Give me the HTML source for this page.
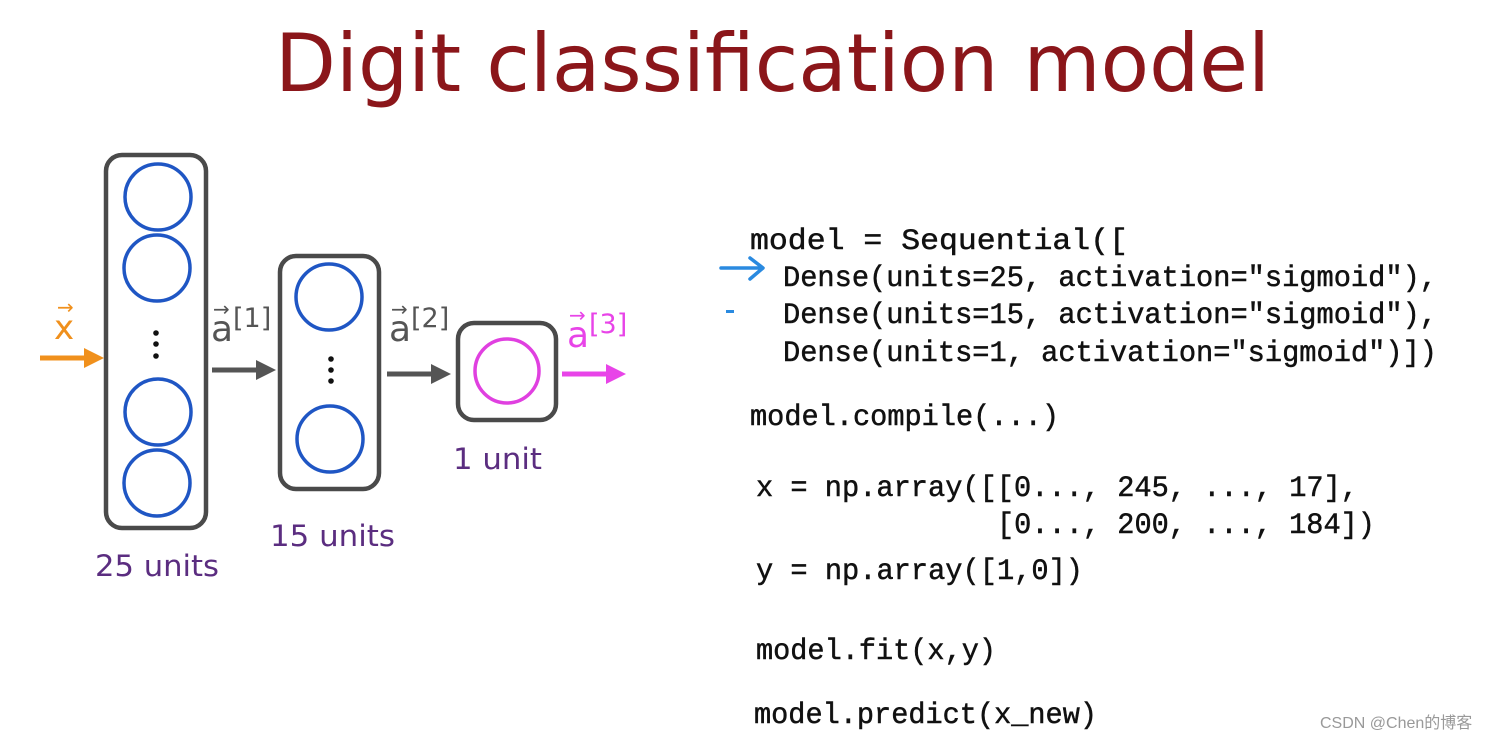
<!DOCTYPE html>
<html><head><meta charset="utf-8"><style>
html,body{margin:0;padding:0;background:#fff;width:1504px;height:742px;overflow:hidden}
svg{display:block}
.code{font-family:"Liberation Mono",monospace;font-size:30px;fill:#111;stroke:#111;stroke-width:0.5}
.lbl{font-family:"DejaVu Sans","Liberation Sans",sans-serif;font-size:29px;fill:#5b2d80}
</style></head><body>
<svg width="1504" height="742" viewBox="0 0 1504 742" xmlns="http://www.w3.org/2000/svg">
<text x="275" y="91" font-family="DejaVu Sans,Liberation Sans,sans-serif" font-size="80" fill="#8b161a" textLength="995" lengthAdjust="spacingAndGlyphs">Digit classification model</text>

<g fill="none" stroke="#4a4a4a" stroke-width="4.5">
<rect x="106" y="155" width="100" height="373" rx="16"/>
<rect x="280" y="256" width="99" height="233" rx="16"/>
<rect x="458" y="323" width="98" height="97" rx="16"/>
</g>
<g fill="none" stroke="#1f56c4" stroke-width="3.5">
<circle cx="158" cy="197" r="33"/>
<circle cx="157" cy="268" r="33"/>
<circle cx="158" cy="412" r="33"/>
<circle cx="157" cy="483" r="33"/>
<circle cx="329" cy="297" r="33"/>
<circle cx="330" cy="439" r="33"/>
</g>
<circle cx="507" cy="371" r="32" fill="none" stroke="#e040e0" stroke-width="3.5"/>
<g fill="#111">
<circle cx="156" cy="333" r="2.8"/><circle cx="156" cy="344" r="2.8"/><circle cx="156" cy="356" r="2.8"/>
<circle cx="331" cy="359" r="2.8"/><circle cx="331" cy="370" r="2.8"/><circle cx="331" cy="381" r="2.8"/>
</g>

<line x1="40" y1="358" x2="88" y2="358" stroke="#f0901c" stroke-width="5"/>
<polygon points="84,348 104,358 84,368" fill="#f0901c"/>
<line x1="212" y1="370" x2="260" y2="370" stroke="#555" stroke-width="5"/>
<polygon points="256,360 276,370 256,380" fill="#555"/>
<line x1="387" y1="374" x2="435" y2="374" stroke="#555" stroke-width="5"/>
<polygon points="431,364 451,374 431,384" fill="#555"/>
<line x1="562" y1="374" x2="610" y2="374" stroke="#e844e8" stroke-width="5"/>
<polygon points="606,364 626,374 606,384" fill="#e844e8"/>

<g font-family="DejaVu Sans,Liberation Sans,sans-serif">
<text x="54" y="339" font-size="34" fill="#f0901c">x</text>
<text x="57" y="314" font-size="20" fill="#f0901c">→</text>
<text x="211" y="341" font-size="36" fill="#555">a</text>
<text x="213" y="316" font-size="20" fill="#555">→</text>
<text x="233" y="327" font-size="27" fill="#555">[1]</text>
<text x="389" y="341" font-size="36" fill="#555">a</text>
<text x="391" y="316" font-size="20" fill="#555">→</text>
<text x="411" y="327" font-size="27" fill="#555">[2]</text>
<text x="567" y="347" font-size="36" fill="#e844e8">a</text>
<text x="569" y="322" font-size="20" fill="#e844e8">→</text>
<text x="589" y="333" font-size="27" fill="#e844e8">[3]</text>
</g>

<text class="lbl" x="95" y="576" textLength="124" lengthAdjust="spacingAndGlyphs">25 units</text>
<text class="lbl" x="270" y="546" textLength="125" lengthAdjust="spacingAndGlyphs">15 units</text>
<text class="lbl" x="453" y="469" textLength="89" lengthAdjust="spacingAndGlyphs">1 unit</text>

<text class="code" x="750" y="249" textLength="378" lengthAdjust="spacingAndGlyphs">model = Sequential([</text>
<text class="code" x="783" y="286" textLength="654" lengthAdjust="spacingAndGlyphs">Dense(units=25, activation="sigmoid"),</text>
<text class="code" x="783" y="323" textLength="654" lengthAdjust="spacingAndGlyphs">Dense(units=15, activation="sigmoid"),</text>
<text class="code" x="783" y="361" textLength="654" lengthAdjust="spacingAndGlyphs">Dense(units=1, activation="sigmoid")])</text>
<text class="code" x="750" y="425" textLength="309" lengthAdjust="spacingAndGlyphs">model.compile(...)</text>
<text class="code" x="756" y="496" textLength="602" lengthAdjust="spacingAndGlyphs">x = np.array([[0..., 245, ..., 17],</text>
<text class="code" x="997" y="533" textLength="378" lengthAdjust="spacingAndGlyphs">[0..., 200, ..., 184])</text>
<text class="code" x="756" y="579" textLength="327" lengthAdjust="spacingAndGlyphs">y = np.array([1,0])</text>
<text class="code" x="756" y="659" textLength="240" lengthAdjust="spacingAndGlyphs">model.fit(x,y)</text>
<text class="code" x="754" y="723" textLength="343" lengthAdjust="spacingAndGlyphs">model.predict(x_new)</text>

<path d="M721 268 L762 268 M750 258 L763 268 L750 279" fill="none" stroke="#2a8ae0" stroke-width="3.5" stroke-linecap="round" stroke-linejoin="round"/>
<rect x="726" y="310" width="8" height="3" fill="#2a8ae0"/>

<text x="1320" y="728" font-family="Liberation Sans,Noto Sans CJK SC,sans-serif" font-size="16" fill="#999">CSDN @Chen的博客</text>
</svg>
</body></html>
